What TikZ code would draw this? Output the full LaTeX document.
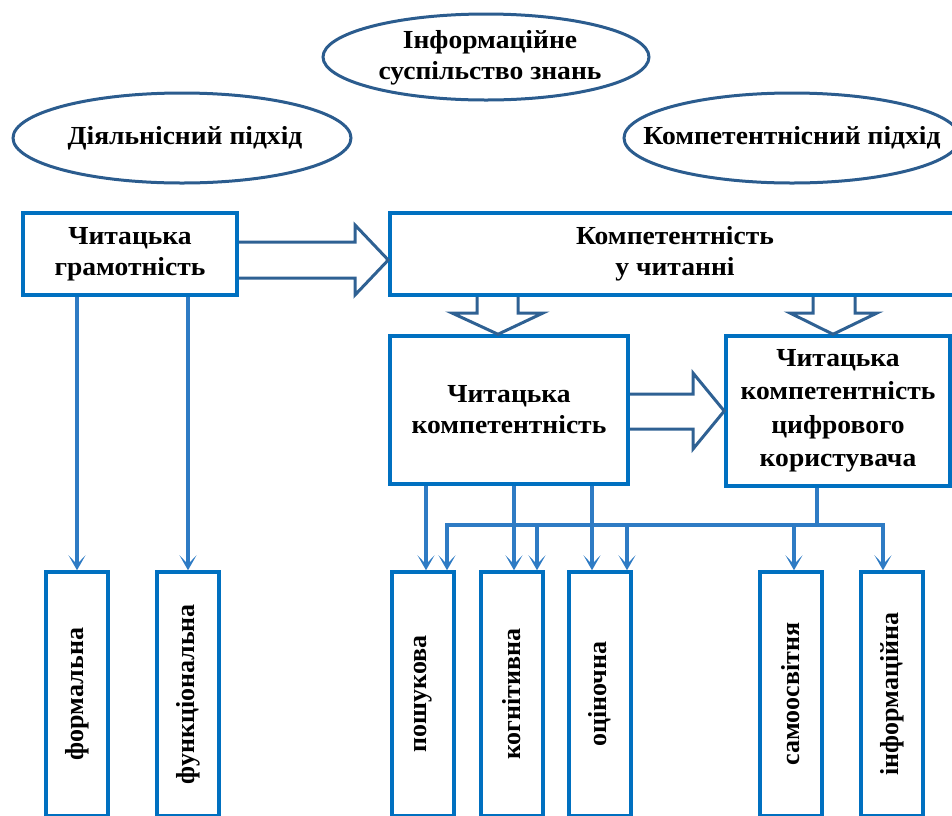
\documentclass[tikz,border=0pt]{standalone}
\usepackage{fontspec}
\setmainfont[FakeStretch=1.06]{Liberation Serif}
\newfontfamily\upfont{Liberation Serif}
\usepackage{graphicx}
\usetikzlibrary{arrows.meta}

\definecolor{boxblue}{HTML}{0070C0}
\definecolor{fatblue}{HTML}{2F6193}
\definecolor{ovalblue}{HTML}{2B5C8E}
\definecolor{linkblue}{HTML}{2E7BC4}

\begin{document}
\begin{tikzpicture}[x=1pt, y=-1pt,
  every node/.style={font=\fontsize{26}{31}\selectfont\bfseries, align=center},
  oval/.style={draw=ovalblue, line width=3pt},
  box/.style={draw=boxblue, line width=3.5pt, rectangle, fill=white},
  lowbox/.style={box, minimum width=62, minimum height=244, font=\upfont\fontsize{26}{31}\selectfont\bfseries},
  fat/.style={draw=fatblue, line width=3pt, line join=miter},
  wire/.style={draw=linkblue, line width=3.2pt},
  link/.style={wire, -{Stealth[length=15pt,width=17pt,inset=9pt]}}]

    \useasboundingbox (0,0) rectangle (952,815);
    \clip (0,0) rectangle (952,815);

    % approaches
    \node (info) at (490,58) {Інформаційне\\суспільство знань};
    \node (diial) at (185,138) {Діяльнісний підхід};
    \node (kompp) at (792,138) {Компетентнісний підхід};
    \draw[oval] (486,57) ellipse [x radius=163, y radius=43];
    \draw[oval] (diial.center -| 182,0) ellipse [x radius=169, y radius=45];
    \draw[oval] (kompp.center) ellipse [x radius=168, y radius=45];

    % main boxes
    \node[box, minimum width=214, minimum height=82] (gram) at (130,254) {Читацька\\грамотність};
    \node[box, minimum width=570, minimum height=82] (komp) at (675,254) {Компетентність\\у читанні};
    \node[box, minimum width=238, minimum height=148] (kc) at (509,410) {Читацька\\компетентність};
    \node[box, minimum width=224, minimum height=150, font=\fontsize{26}{33.5}\selectfont\bfseries] (kcc) at (838,411) {Читацька\\компетентність\\цифрового\\користувача};

    % kinds
    \node[lowbox] (form) at (77,694) {\rotatebox{90}{формальна}};
    \node[lowbox] (func) at (188,694) {\rotatebox{90}{функціональна}};
    \node[lowbox] (posh) at (423,694) {\rotatebox{90}{пошукова}};
    \node[lowbox] (kogn) at (512,694) {\rotatebox{90}{когнітивна}};
    \node[lowbox] (otsin) at (600,694) {\rotatebox{90}{оціночна}};
    \node[lowbox] (samo) at (791,694) {\rotatebox{90}{самоосвітня}};
    \node[lowbox] (infor) at (892,694) {\rotatebox{90}{інформаційна}};

    % block arrows
    \draw[fat] (gram.east |- 0,242) -- (355,242) -- (355,225) -- (komp.west |- 0,260)
        -- (355,295) -- (355,278) -- (gram.east |- 0,278);
    \draw[fat] (477,0 |- komp.south) -- (477,313) -- (452,313) -- (498,0 |- kc.north)
        -- (543,313) -- (518,313) -- (518,0 |- komp.south);
    \draw[fat] (813,0 |- komp.south) -- (813,313) -- (790,313) -- (833,0 |- kcc.north)
        -- (877,313) -- (855,313) -- (855,0 |- komp.south);
    \draw[fat] (kc.east |- 0,394) -- (693,394) -- (693,373) -- (kcc.west |- 0,411)
        -- (693,449) -- (693,429) -- (kc.east |- 0,429);

    % connectors
    \draw[link] (gram.south -| form.north) -- (form.north);
    \draw[link] (gram.south -| func.north) -- (func.north);
    \draw[link] (kc.south -| 426,0) -- (posh.north -| 426,0);
    \draw[link] (kc.south -| 514,0) -- (kogn.north -| 514,0);
    \draw[link] (kc.south -| 592,0) -- (otsin.north -| 592,0);

    \coordinate (bus) at (817,525);
    \coordinate (b2) at (537,525);
    \coordinate (b3) at (627,525);
    \coordinate (b4) at (794,525);
    \draw[wire] (kcc.south -| bus) -- (bus);
    \draw[link] (bus) -| (posh.north -| 447,0);
    \draw[link] (bus) -| (infor.north -| 883,0);
    \draw[link] (b2) -- (kogn.north -| b2);
    \draw[link] (b3) -- (otsin.north -| b3);
    \draw[link] (b4) -- (samo.north -| b4);

\end{tikzpicture}
\end{document}
